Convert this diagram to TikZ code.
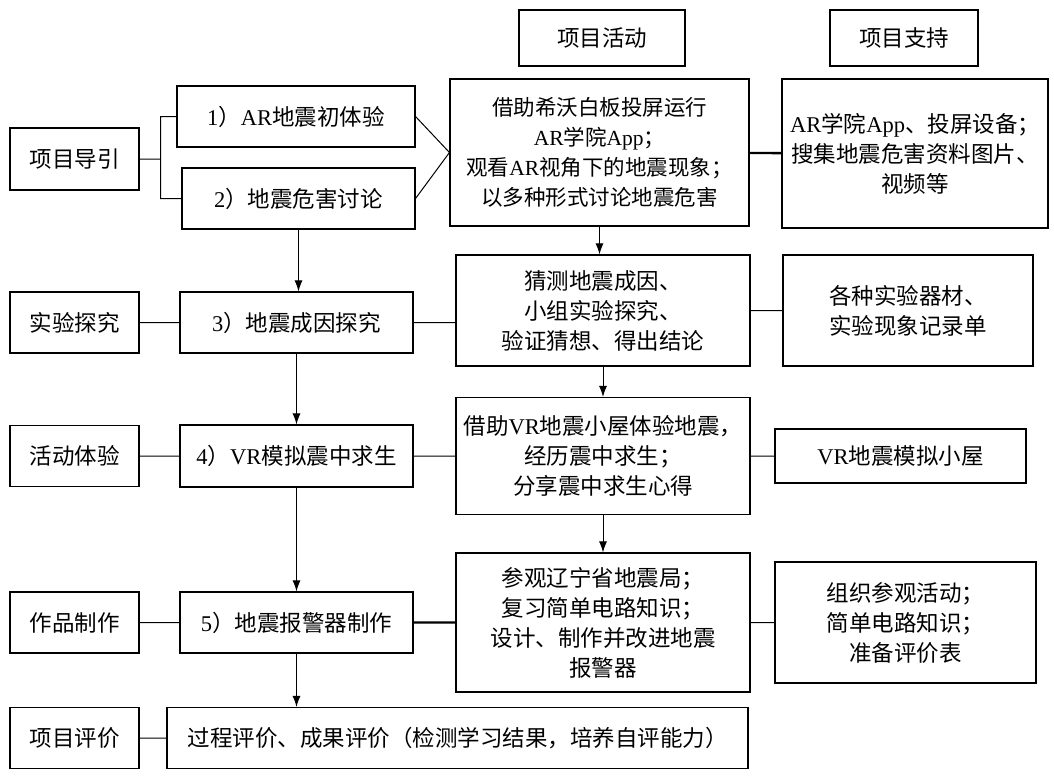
\documentclass[tikz,border=0pt]{standalone}
\usepackage{fontspec}
\setmainfont{Noto Sans CJK SC}
\newfontfamily\latinfont{Liberation Serif}
\newcommand{\ltn}[1]{{\latinfont #1}}
\usetikzlibrary{arrows.meta, calc}

\begin{document}
\begin{tikzpicture}[x=1pt, y=-1pt,
    box/.style={draw, line width=1.1pt, inner sep=0pt, align=center, font=\fontsize{22.5}{30}\selectfont},
    link/.style={line width=1pt},
    arr/.style={line width=1pt, -{Latex[length=11pt, width=8pt]}}]
                    \useasboundingbox (0, 0) rectangle (1054, 776);

                    \node[box, minimum width=166, minimum height=56] (hAct) at (602, 38) {项目活动};
                    \node[box, minimum width=148, minimum height=56] (hSup) at (904, 38) {项目支持};

                    \node[box, minimum width=129, minimum height=62] (lead) at (74.5, 159) {项目导引};
                    \node[box, minimum width=129, minimum height=61] (explore) at (74.5, 322.5) {实验探究};
                    \node[box, minimum width=129, minimum height=61] (experience) at (74.5, 456) {活动体验};
                    \node[box, minimum width=129, minimum height=61] (making) at (74.5, 622.5) {作品制作};
                    \node[box, minimum width=129, minimum height=61] (review) at (74.5, 738) {项目评价};

                    \node[box, minimum width=238, minimum height=61] (s1) at (296, 116.5) {\ltn{1}）\ltn{AR}地震初体验};
                    \node[box, minimum width=233, minimum height=61] (s2) at (298.5, 198.5) {\ltn{2}）地震危害讨论};
                    \node[box, minimum width=233, minimum height=61] (s3) at ($(s2) + (-2, 124)$) {\ltn{3}）地震成因探究};
                    \node[box, minimum width=233, minimum height=62] (s4) at ($(s3) + (0, 133.5)$) {\ltn{4}）\ltn{VR}模拟震中求生};
                    \node[box, minimum width=233, minimum height=61] (s5) at ($(s4) + (0, 166.5)$) {\ltn{5}）地震报警器制作};
                    \node[box, minimum width=581, minimum height=61] (result) at (457.5, 738) {过程评价、成果评价（检测学习结果，培养自评能力）};

                    \node[box, font=\fontsize{21.5}{30}\selectfont, minimum width=299, minimum height=147] (act1) at (599.5, 152.5) {借助希沃白板投屏运行\\\ltn{AR}学院\ltn{App}；\\观看\ltn{AR}视角下的地震现象；\\以多种形式讨论地震危害};
                    \node[box, minimum width=294, minimum height=111] (act2) at (603, 310.5) {猜测地震成因、\\小组实验探究、\\验证猜想、得出结论};
                    \node[box, minimum width=294, minimum height=117] (act3) at ($(act2) + (0, 145.5)$) {借助\ltn{VR}地震小屋体验地震，\\经历震中求生；\\分享震中求生心得};
                    \node[box, minimum width=294, minimum height=139] (act4) at ($(act3) + (0, 166.5)$) {参观辽宁省地震局；\\复习简单电路知识；\\设计、制作并改进地震\\报警器};

                    \node[box, minimum width=266, minimum height=149] (sup1) at (915, 153.5) {\ltn{AR}学院\ltn{App}、投屏设备；\\搜集地震危害资料图片、\\视频等};
                    \node[box, minimum width=250, minimum height=111] (sup2) at (908, 310.5) {各种实验器材、\\实验现象记录单};
                    \node[box, minimum width=251, minimum height=54] (sup3) at (900.5, 456) {\ltn{VR}地震模拟小屋};
                    \node[box, minimum width=261, minimum height=121] (sup4) at (905.5, 622.5) {组织参观活动；\\简单电路知识；\\准备评价表};

                    \coordinate (fork) at ($(lead.east) + (21, 0)$);

                    \draw[link]
                    (lead.east) -- (fork)
                    (fork) |- (s1.west)
                    (fork) |- (s2.west)
                    (s1.east) -- (act1.west)
                    (s2.east) -- (act1.west)
                    (explore) -- (s3)
                    (s3.east) -- (s3.east -| act2.west)
                    (act2) -- (sup2)
                    (experience) -- (s4)
                    (s4) -- (act3)
                    (act3) -- (sup3)
                    (making) -- (s5)
                    (act4) -- (sup4)
                    (review) -- (result);
                    \draw[line width=2.4pt] (act1) -- (sup1) (s5) -- (act4);

                    \draw[arr] (s2.south) -- (s2.south |- s3.north);
                    \draw[arr] (s3) -- (s4);
                    \draw[arr] (s4) -- (s5);
                    \draw[arr] (s5.south) -- (s5.south |- result.north);
                    \draw[arr] (act1.south) -- (act1.south |- act2.north);
                    \draw[arr] (act2) -- (act3);
                    \draw[arr] (act3) -- (act4);
                \end{tikzpicture}
\end{document}
